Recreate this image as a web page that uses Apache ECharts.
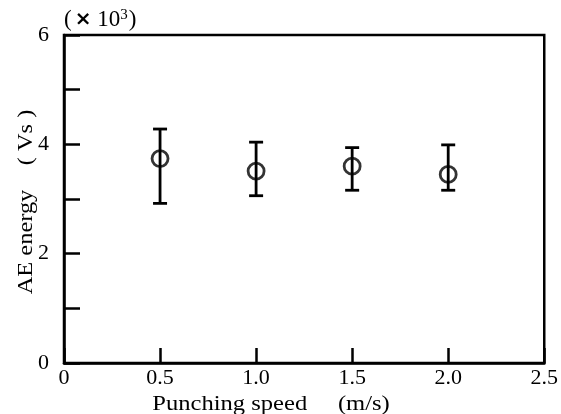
<!DOCTYPE html>
<html>
<head>
<meta charset="utf-8">
<script src="https://cdn.jsdelivr.net/npm/echarts@6/dist/echarts.min.js"></script>
<style>
  html, body { margin: 0; padding: 0; background: #fff; }
  #chart { width: 561px; height: 414px; }
</style>
</head>
<body>
<div id="chart"></div>
<script>
// Punching speed (m/s) and AE energy (x10^3 Vs): mean with min/max error bars
const speeds = [0.5, 1.0, 1.5, 2.0];
const energyMean = [3.74, 3.51, 3.60, 3.45];
const energyHigh = [4.28, 4.04, 3.94, 3.99];
const energyLow = [2.92, 3.06, 3.16, 3.16];
const yTickLabels = { 0: '0', 2: '2', 4: '4', 6: '6' };
const xTitle = 'Punching speed     (m/s)';
const yTitle = 'AE energy    ( Vs )';

const FONT = '"Liberation Serif", "Times New Roman", serif';
const INK = '#000';

const meanData = speeds.map((s, i) => [s, energyMean[i]]);
const barData = speeds.map((s, i) => [s, energyLow[i], energyHigh[i]]);

const chart = echarts.init(document.getElementById('chart'), null, { renderer: 'canvas' });

chart.setOption({
  animation: false,
  backgroundColor: '#fff',
  grid: {
    left: 64, right: 10, top: 35, bottom: 51,
    show: true, borderColor: INK, borderWidth: 2.5, backgroundColor: 'transparent'
  },
  xAxis: {
    type: 'value', min: 0, max: 2.5, interval: 0.5,
    axisLine: { show: true, lineStyle: { color: INK, width: 2.5 } },
    axisTick: { show: true, inside: true, length: 15, lineStyle: { color: INK, width: 2.5 } },
    axisLabel: {
      fontFamily: FONT, fontSize: 22, color: INK, margin: 4,
      formatter: v => (v === 0 ? '0' : v.toFixed(1))
    },
    splitLine: { show: false }
  },
  yAxis: {
    type: 'value', min: 0, max: 6, interval: 1,
    axisLine: { show: true, lineStyle: { color: INK, width: 2.5 } },
    axisTick: { show: true, inside: true, length: 16, lineStyle: { color: INK, width: 2.5 } },
    axisLabel: {
      fontFamily: FONT, fontSize: 22, color: INK, margin: 15,
      formatter: v => yTickLabels[v] || ''
    },
    splitLine: { show: false }
  },
  graphic: [
    {
      // multiplier note above the value axis
      type: 'text', left: 64, top: 8,
      style: {
        text: '{t|(}{b|\u00d7}{t| 10}{sup|3}{t|)}',
        fill: INK,
        rich: {
          t: { fontSize: 23, fontFamily: FONT, fill: INK },
          b: { fontSize: 20, fontWeight: 'bold', fontFamily: 'DejaVu Sans', fill: INK, padding: [0, 0, 0, 3] },
          sup: { fontSize: 15, verticalAlign: 'top', padding: [0, 1, 9, 0], fontFamily: FONT, fill: INK }
        }
      }
    },
    {
      // x axis title, set in a slightly widened face
      type: 'text', x: 271, y: 404, scaleX: 1.17,
      style: { text: xTitle, fontSize: 21, fontFamily: FONT, fill: INK, align: 'center', verticalAlign: 'middle' }
    },
    {
      // y axis title, rotated
      type: 'text', x: 27, y: 202, rotation: Math.PI / 2, scaleX: 1.22,
      style: { text: yTitle, fontSize: 20, fontFamily: FONT, fill: INK, align: 'center', verticalAlign: 'middle' }
    }
  ],
  series: [
    {
      type: 'custom',
      data: barData,
      renderItem: (params, api) => {
        const x = api.value(0);
        const lo = api.coord([x, api.value(1)]);
        const hi = api.coord([x, api.value(2)]);
        const half = 7;
        const st = { stroke: INK, lineWidth: 2.8, fill: 'none' };
        return {
          type: 'group',
          children: [
            { type: 'line', shape: { x1: lo[0], y1: lo[1], x2: hi[0], y2: hi[1] }, style: st },
            { type: 'line', shape: { x1: hi[0] - half, y1: hi[1], x2: hi[0] + half, y2: hi[1] }, style: st },
            { type: 'line', shape: { x1: lo[0] - half, y1: lo[1], x2: lo[0] + half, y2: lo[1] }, style: st }
          ]
        };
      },
      z: 2
    },
    {
      type: 'scatter',
      data: meanData,
      symbol: 'circle',
      symbolSize: 16,
      itemStyle: { color: 'rgba(0,0,0,0)', borderColor: INK, borderWidth: 2.8 },
      z: 3
    }
  ]
});
</script>
</body>
</html>
